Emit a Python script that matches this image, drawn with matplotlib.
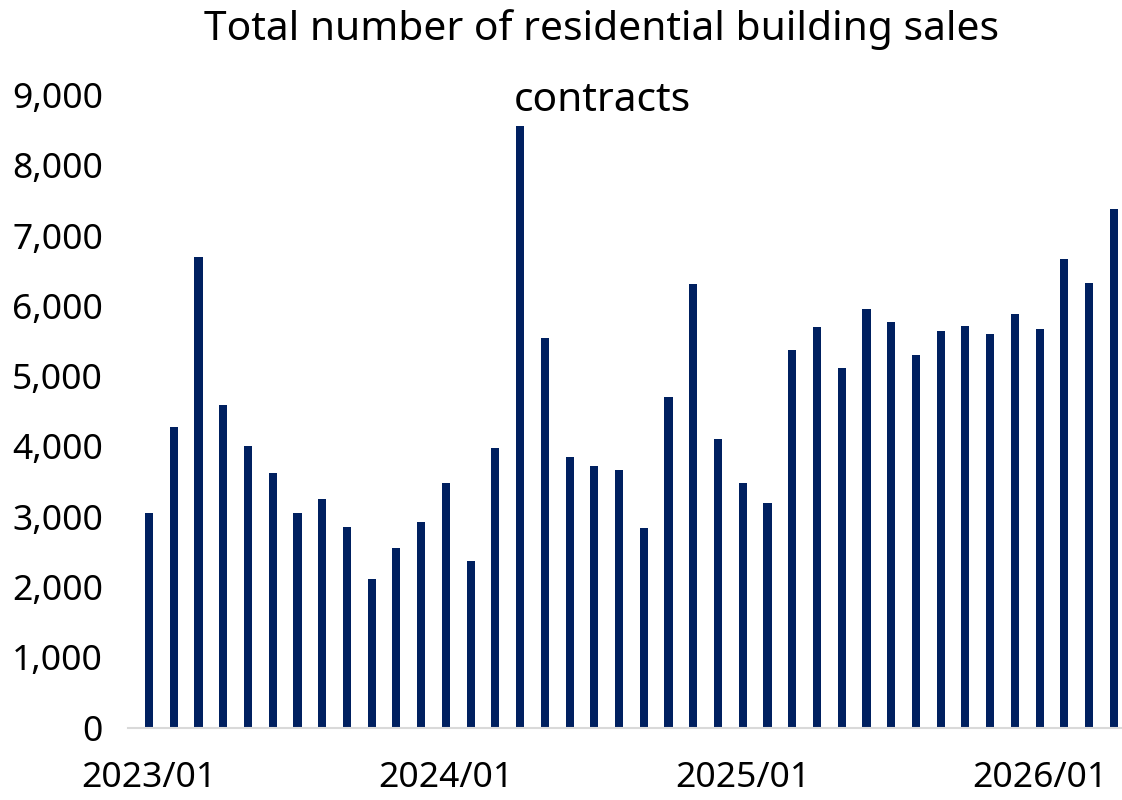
import matplotlib
matplotlib.use("Agg")
import matplotlib.pyplot as plt

plt.rcParams['font.family'] = ['Noto Sans', 'DejaVu Sans']

months = [f"{y}/{m:02d}" for y in (2023, 2024, 2025, 2026) for m in range(1, 13)][:40]
contracts = [3050, 4280, 6700, 4590, 4010, 3620, 3060, 3250, 2860, 2120, 2550, 2930,
             3480, 2375, 3975, 8560, 5550, 3855, 3720, 3660, 2845, 4700, 6310, 4105,
             3475, 3200, 5370, 5700, 5110, 5960, 5775, 5295, 5650, 5720, 5595, 5890,
             5675, 6670, 6325, 7380]
tick_idx = [0, 12, 24, 36]
y_ticks = list(range(0, 9001, 1000))

fig = plt.figure(figsize=(11.22, 8), dpi=100)
ax = fig.add_axes([128 / 1122, 72.3 / 800, 994 / 1122, 632.7 / 800])

x = list(range(len(contracts)))
ax.bar(x, contracts, width=0.33, color='#002060', zorder=2)

ax.set_xlim(-0.85, 39.33)
ax.set_ylim(0, 9000)
ax.set_yticks(y_ticks)
ax.set_yticklabels([f"{v:,}" for v in y_ticks], fontsize=25.5)
ax.set_xticks(tick_idx)
ax.set_xticklabels([months[i] for i in tick_idx], fontsize=25.5)
ax.tick_params(axis='both', length=0)
ax.tick_params(axis='y', pad=18)
ax.tick_params(axis='x', pad=24)

for s in ['top', 'right', 'left']:
    ax.spines[s].set_visible(False)
ax.spines['bottom'].set_color('#d9d9d9')
ax.spines['bottom'].set_linewidth(1.5)

fig.text(602 / 1122, 1 - 30 / 800, "Total number of residential building sales",
         ha='center', va='center', fontsize=29.3)
fig.text(602 / 1122, 1 - 101 / 800, "contracts", ha='center', va='center', fontsize=29.3)

fig.savefig("out.png", dpi=100)
